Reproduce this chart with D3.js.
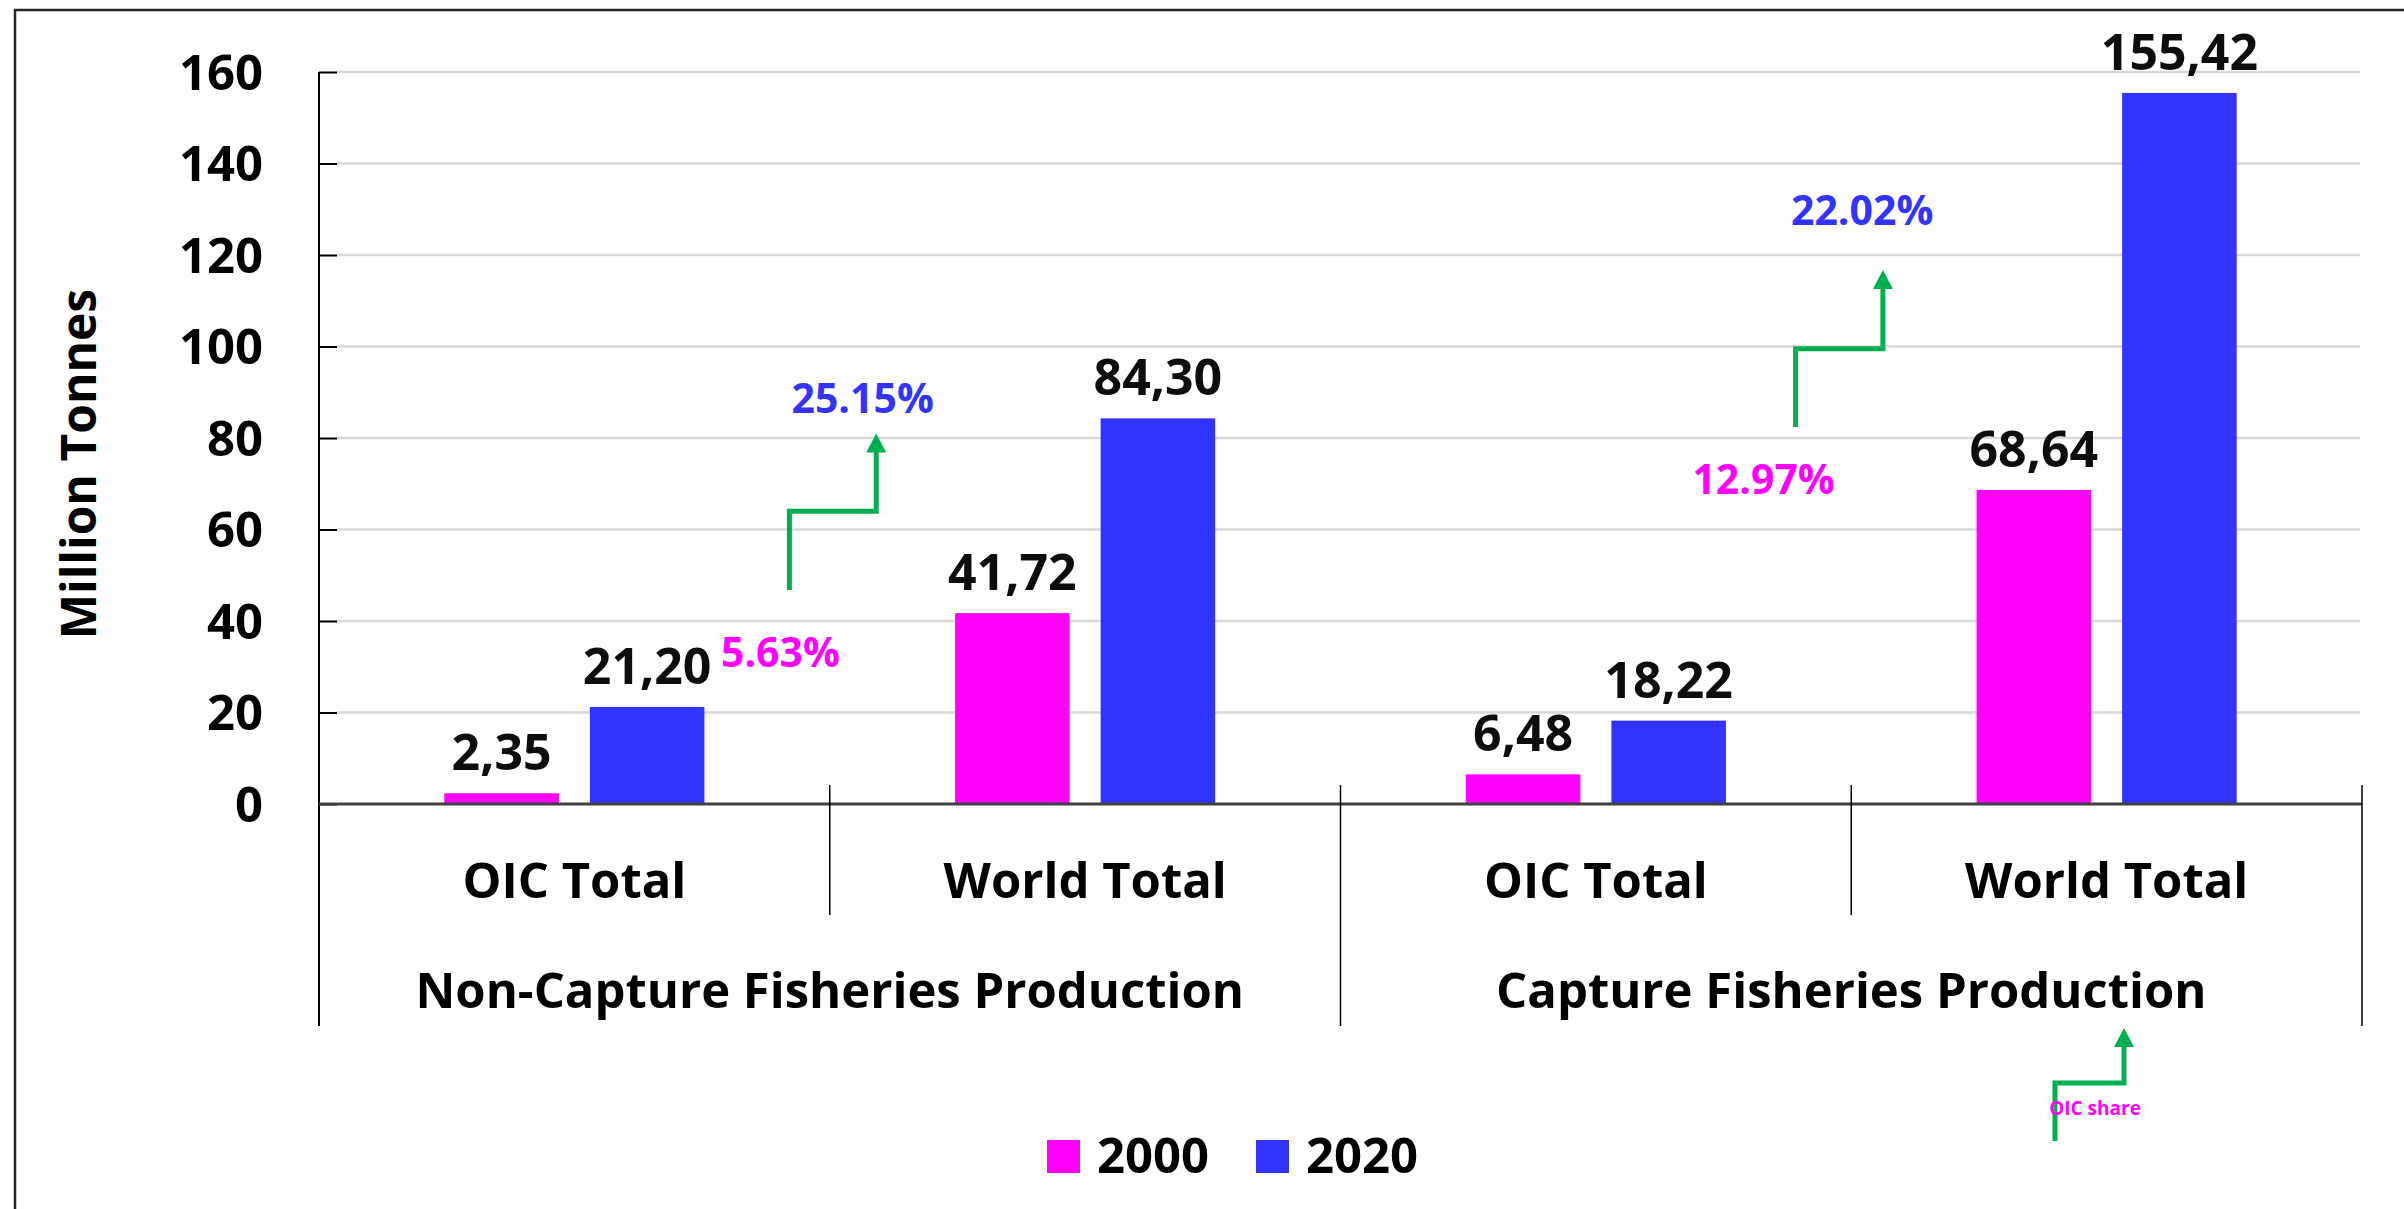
<!DOCTYPE html>
<html>
<head>
<meta charset="utf-8">
<script src="https://cdn.jsdelivr.net/npm/d3@7"></script>
<style>
  html, body { margin: 0; padding: 0; background: #fff; }
  svg { display: block; font-family: "Open Sans", "Noto Sans", sans-serif; font-weight: 700; }
</style>
</head>
<body>
<svg id="chart" width="2404" height="1209"></svg>
<script>
// data
const groups = ["Non-Capture Fisheries Production", "Capture Fisheries Production"];
const subCategories = ["OIC Total", "World Total", "OIC Total", "World Total"];
const years = ["2000", "2020"];
const values2000 = [2.35, 41.72, 6.48, 68.64];
const values2020 = [21.20, 84.30, 18.22, 155.42];
const oicShare2000 = ["5.63%", "12.97%"];
const oicShare2020 = ["25.15%", "22.02%"];
const yTicks = [0, 20, 40, 60, 80, 100, 120, 140, 160];

const colors = { "2000": "#FF00FF", "2020": "#3333FF" };
const green = "#00B050";

// layout
const W = 2404, H = 1209;
const plot = { left: 319, right: 2362, top: 72, bottom: 804 };

const svg = d3.select("#chart");

// outer chart border (cut off on the right and bottom)
svg.append("rect")
    .attr("x", 15).attr("y", 10).attr("width", W + 50).attr("height", H + 50)
    .attr("fill", "none").attr("stroke", "#262626").attr("stroke-width", 2.5);

const y = d3.scaleLinear().domain([0, 160]).range([plot.bottom, plot.top]);
const x = d3.scaleBand().domain(d3.range(subCategories.length)).range([plot.left, plot.right]);
const xSeries = d3.scaleBand().domain(years).range([0, x.bandwidth()]).paddingInner(0.213).paddingOuter(0.861);
// slot scale, used to place annotations between categories
const slot = d3.scaleLinear().domain([0, subCategories.length]).range([plot.left, plot.right]);

// gridlines
svg.append("g").selectAll("line").data(yTicks.filter(d => d > 0)).enter().append("line")
    .attr("x1", plot.left + 18).attr("x2", plot.right - 2)
    .attr("y1", d => y(d)).attr("y2", d => y(d))
    .attr("stroke", "#D9D9D9").attr("stroke-width", 2.5);

// y axis
const yAxis = svg.append("g").attr("transform", `translate(${plot.left},0)`)
    .call(d3.axisLeft(y).tickValues(yTicks).tickSize(-18).tickPadding(56))
    .attr("font-family", null).attr("font-size", null);
yAxis.select(".domain").remove();
yAxis.selectAll(".tick line").attr("stroke", "#000").attr("stroke-width", 2);
yAxis.selectAll(".tick text").attr("fill", "#000").style("font-size", "49px").style("font-weight", 700)
    .attr("dy", "0.35em");

svg.append("line").attr("x1", plot.left).attr("x2", plot.left)
    .attr("y1", plot.top).attr("y2", 1026).attr("stroke", "#000").attr("stroke-width", 2);

svg.append("text")
    .attr("transform", `translate(96, 464) rotate(-90)`)
    .attr("text-anchor", "middle").style("font-size", "48px").attr("fill", "#000")
    .text("Million Tonnes");

// bars
const rows = subCategories.map((c, i) => ({ i, c, "2000": values2000[i], "2020": values2020[i] }));
const fmt = d3.formatLocale({ decimal: ",", thousands: ".", grouping: [3], currency: ["", ""] }).format(".2f");

const cat = svg.append("g").selectAll("g").data(rows).enter().append("g")
    .attr("transform", d => `translate(${x(d.i)},0)`);

cat.selectAll("rect").data(d => years.map(yr => ({ yr, v: d[yr] }))).enter().append("rect")
    .attr("x", d => xSeries(d.yr)).attr("width", xSeries.bandwidth())
    .attr("y", d => y(d.v)).attr("height", d => y(0) - y(d.v))
    .attr("fill", d => colors[d.yr]);

cat.selectAll("text.val").data(d => years.map(yr => ({ yr, v: d[yr] }))).enter().append("text")
    .attr("class", "val")
    .attr("x", d => xSeries(d.yr) + xSeries.bandwidth() / 2)
    .attr("y", d => y(d.v) - 23)
    .attr("text-anchor", "middle").style("font-size", "50px").attr("fill", "#0D0D0D")
    .text(d => fmt(d.v));

// x axis line and separators
svg.append("line").attr("x1", plot.left).attr("x2", plot.right)
    .attr("y1", plot.bottom).attr("y2", plot.bottom)
    .attr("stroke", "#404040").attr("stroke-width", 3);

const seps = d3.range(1, subCategories.length + 1);
svg.append("g").selectAll("line").data(seps).enter().append("line")
    .attr("x1", d => slot(d)).attr("x2", d => slot(d))
    .attr("y1", plot.bottom - 19).attr("y2", d => d % 2 === 0 ? 1026 : 915)
    .attr("stroke", "#000").attr("stroke-width", 1.5);

svg.append("g").selectAll("text").data(subCategories).enter().append("text")
    .attr("x", (d, i) => x(i) + x.bandwidth() / 2).attr("y", 898)
    .attr("text-anchor", "middle").style("font-size", "49px").attr("fill", "#000")
    .text(d => d);

svg.append("g").selectAll("text").data(groups).enter().append("text")
    .attr("x", (d, i) => slot(i * 2 + 1)).attr("y", 1008)
    .attr("text-anchor", "middle").style("font-size", "49px").attr("fill", "#000")
    .text(d => d);

// OIC share annotations
const shareLabels = [
    { text: oicShare2000[0], yr: "2000", sx: 0.787, v: 30 },
    { text: oicShare2020[0], yr: "2020", sx: 0.925, v: 85.5 },
    { text: oicShare2000[1], yr: "2000", sx: 2.689, v: 67.8 },
    { text: oicShare2020[1], yr: "2020", sx: 2.882, v: 126.6 }
];
svg.append("g").selectAll("text").data(shareLabels).enter().append("text")
    .attr("x", d => slot(d.sx)).attr("y", d => y(d.v))
    .style("font-size", "41px").attr("fill", d => colors[d.yr])
    .text(d => d.text);

function stepArrow(x0, yStart, yStep, x1, yTip) {
    const g = svg.append("g");
    g.append("path")
        .attr("d", `M${x0},${yStart}V${yStep}H${x1}V${yTip + 17}`)
        .attr("fill", "none").attr("stroke", green).attr("stroke-width", 5)
        .attr("stroke-linejoin", "miter");
    g.append("path")
        .attr("d", `M${x1},${yTip}L${x1 - 10},${yTip + 19}L${x1 + 10},${yTip + 19}Z`)
        .attr("fill", green);
}
stepArrow(slot(0.921), y(46.8), y(64), slot(1.091), y(81));
stepArrow(slot(2.891), y(82.4), y(99.5), slot(3.062), y(116.7));

// key arrow below the axis
stepArrow(2055, 1141, 1083, 2124, 1028);
svg.append("text").attr("x", 2095).attr("y", 1115).attr("text-anchor", "middle")
    .style("font-size", "19px").attr("fill", "#FF00FF").text("OIC share");

// legend
const legend = svg.append("g").attr("transform", "translate(1047,1140)");
const li = legend.selectAll("g").data(years).enter().append("g")
    .attr("transform", (d, i) => `translate(${i * 209},0)`);
li.append("rect").attr("width", 33).attr("height", 33).attr("fill", d => colors[d]);
li.append("text").attr("x", 50).attr("y", 33).style("font-size", "49px").attr("fill", "#000").text(d => d);
</script>
</body>
</html>
